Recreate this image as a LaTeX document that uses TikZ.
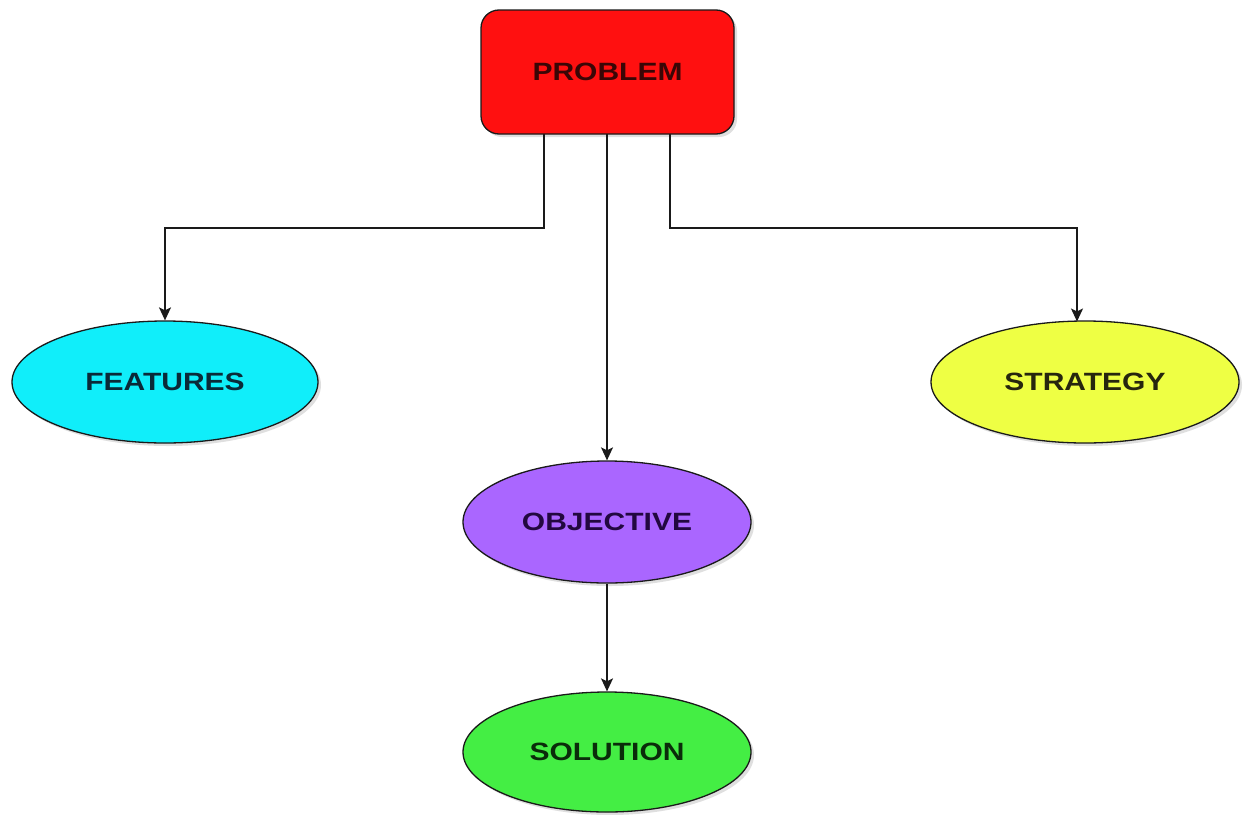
\documentclass[tikz,border=0pt]{standalone}
\usepackage{fontspec}
\setmainfont{Liberation Sans}[FakeStretch=1.2]
\usetikzlibrary{arrows.meta,shapes.geometric,shadows}
\definecolor{probfill}{HTML}{FF1010}
\definecolor{probtext}{HTML}{3A0606}
\definecolor{featfill}{HTML}{10EEFA}
\definecolor{feattext}{HTML}{0A2A38}
\definecolor{stratfill}{HTML}{EEFF44}
\definecolor{strattext}{HTML}{26260E}
\definecolor{objfill}{HTML}{AA66FF}
\definecolor{objtext}{HTML}{220840}
\definecolor{solfill}{HTML}{44EE44}
\definecolor{soltext}{HTML}{0A2C0A}
\definecolor{edge}{HTML}{1A1A1A}
\tikzset{
  base/.style={draw=edge, line width=1.3pt, font=\fontsize{25}{28}\selectfont\bfseries,
    drop shadow={shadow xshift=3pt, shadow yshift=-3pt, opacity=0.25, fill=gray}},
  probbox/.style={base, rectangle, rounded corners=18pt, minimum width=253pt, minimum height=124pt, fill=probfill, text=probtext},
  oval/.style={base, ellipse, inner sep=0pt},
  conn/.style={draw=edge, line width=1.5pt, -{Stealth[length=13pt,width=12pt,inset=3pt]}}
}
\begin{document}
\begin{tikzpicture}[x=1pt,y=-1pt]
\useasboundingbox (0,0) rectangle (1244,814);
\fill[white] (0,0) rectangle (1244,814);
\node[probbox] (prob) at (607.5,72) {PROBLEM};
\node[oval, minimum width=306pt, minimum height=122pt, fill=featfill, text=feattext] (feat) at (165,382) {FEATURES};
\node[oval, minimum width=308pt, minimum height=122pt, fill=stratfill, text=strattext] (strat) at (1085,382) {STRATEGY};
\node[oval, minimum width=288pt, minimum height=122pt, fill=objfill, text=objtext] (obj) at (607,522) {OBJECTIVE};
\node[oval, minimum width=288pt, minimum height=120pt, fill=solfill, text=soltext] (sol) at (607,752) {SOLUTION};
\coordinate (pl) at (544,134);
\coordinate (pm) at (607,134);
\coordinate (pr) at (670,134);
\coordinate (st) at (1077,321.5);
\draw[conn] (pl) -- (544,228) -| (feat.north);
\draw[conn] (pm) -- (obj.north);
\draw[conn] (pr) -- (670,228) -| (st);
\draw[conn] (obj.south) -- (sol.north);
\end{tikzpicture}
\end{document}
